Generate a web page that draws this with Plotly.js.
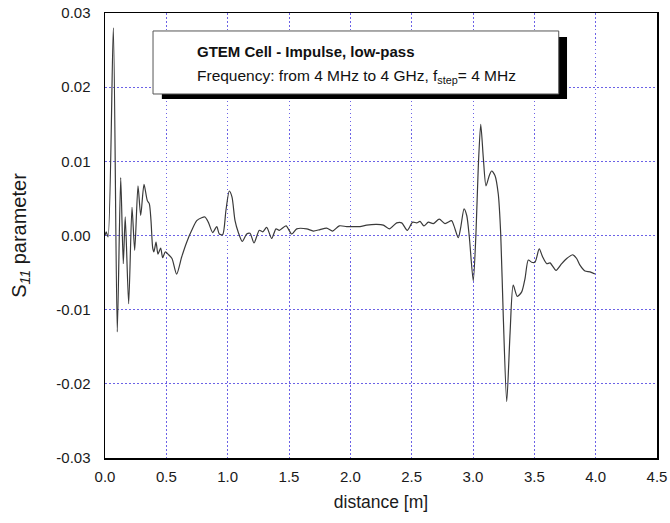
<!DOCTYPE html>
<html>
<head>
<meta charset="utf-8">
<script src="https://cdn.plot.ly/plotly-3.0.1.min.js"></script>
<style>html,body{margin:0;padding:0;background:#fff;}#chart{width:670px;height:523px;}</style>
</head>
<body>
<div id="chart"></div>
<script>
// distance [m]
const distance = [
  0.000, 0.010, 0.025, 0.068, 0.100, 0.128, 0.149, 0.165, 0.193, 0.220,
  0.242, 0.269, 0.291, 0.318, 0.345, 0.361, 0.375, 0.389, 0.399, 0.416,
  0.432, 0.454, 0.470, 0.492, 0.519, 0.546, 0.584, 0.625, 0.666, 0.707,
  0.748, 0.788, 0.815, 0.842, 0.878, 0.911, 0.932, 0.959, 0.986, 1.013,
  1.035, 1.060, 1.087, 1.119, 1.155, 1.182, 1.215, 1.258, 1.286, 1.318,
  1.359, 1.394, 1.421, 1.476, 1.522, 1.563, 1.644, 1.698, 1.753, 1.807,
  1.856, 1.910, 1.970, 2.024, 2.079, 2.133, 2.215, 2.269, 2.318, 2.378,
  2.419, 2.464, 2.508, 2.541, 2.568, 2.600, 2.636, 2.676, 2.725, 2.772,
  2.826, 2.845, 2.880, 2.900, 2.927, 2.949, 2.970, 3.002, 3.024, 3.043,
  3.063, 3.084, 3.106, 3.133, 3.152, 3.179, 3.206, 3.226, 3.247, 3.275,
  3.302, 3.328, 3.361, 3.397, 3.424, 3.451, 3.478, 3.505, 3.540, 3.568,
  3.601, 3.628, 3.677, 3.723, 3.764, 3.813, 3.845, 3.872, 3.913, 3.954,
  3.994
];
// S11 parameter
const s11 = [
  0.0000, 0.0005, -0.0002, 0.0280, -0.0130, 0.0078, -0.0038, 0.0025, -0.0092, 0.0038,
  -0.0020, 0.0067, 0.0027, 0.0069, 0.0047, 0.0043, 0.0020, -0.0017, -0.0022, -0.0009,
  -0.0025, -0.0017, -0.0030, -0.0022, -0.0026, -0.0031, -0.0052, -0.0029, -0.0009, 0.0007,
  0.0020, 0.0024, 0.0025, 0.0018, 0.0004, 0.0012, 0.0002, 0.0001, 0.0034, 0.0060,
  0.0052, 0.0020, 0.0004, -0.0008, 0.0002, 0.0003, -0.0010, 0.0007, 0.0005, 0.0011,
  -0.0004, 0.0009, 0.0007, 0.0013, 0.0002, 0.0009, 0.0009, 0.0006, 0.0008, 0.0010,
  0.0006, 0.0013, 0.0012, 0.0012, 0.0012, 0.0014, 0.0015, 0.0014, 0.0009, 0.0017,
  0.0017, 0.0007, 0.0018, 0.0017, 0.0019, 0.0013, 0.0018, 0.0016, 0.0022, 0.0016,
  0.0020, 0.0013, -0.0003, 0.0011, 0.0036, 0.0027, -0.0002, -0.0061, 0.0002, 0.0092,
  0.0150, 0.0105, 0.0067, 0.0081, 0.0087, 0.0081, 0.0056, 0.0002, -0.0110, -0.0224,
  -0.0132, -0.0067, -0.0082, -0.0076, -0.0058, -0.0033, -0.0036, -0.0036, -0.0018, -0.0029,
  -0.0038, -0.0037, -0.0047, -0.0038, -0.0031, -0.0026, -0.0031, -0.0040, -0.0048, -0.0049,
  -0.0052
];
const xTicks = [0, 0.5, 1, 1.5, 2, 2.5, 3, 3.5, 4, 4.5];
const xTickText = ["0.0","0.5","1.0","1.5","2.0","2.5","3.0","3.5","4.0","4.5"];
const yTicks = [-0.03, -0.02, -0.01, 0, 0.01, 0.02, 0.03];
const yTickText = ["-0.03","-0.02","-0.01","0.00","0.01","0.02","0.03"];

const gridColor = "#6c62e6";
const tickFont = {family: "Liberation Sans, Arial, sans-serif", size: 15, color: "#1a1a1a"};

const trace = {
  x: distance, y: s11, type: "scatter", mode: "lines",
  line: {color: "#3a3a3a", width: 1.2, shape: "spline", smoothing: 0.7},
  hoverinfo: "none"
};

const layout = {
  width: 670, height: 523,
  margin: {l: 105, r: 13, t: 13, b: 65},
  paper_bgcolor: "#fff", plot_bgcolor: "#fff",
  showlegend: false,
  font: {family: "Liberation Sans, Arial, sans-serif", color: "#1a1a1a"},
  xaxis: {
    range: [0, 4.5], tickvals: xTicks, ticktext: xTickText,
    showgrid: true, gridcolor: gridColor, gridwidth: 1, griddash: "1.5px,2.5px",
    zeroline: false, showline: true, linecolor: "#000", linewidth: 1.5, mirror: true,
    ticks: "", ticklabelstandoff: 4, tickfont: tickFont,
    title: {text: "distance [m]", font: {size: 17.5, color: "#1a1a1a"}, standoff: 12}
  },
  yaxis: {
    range: [-0.03, 0.03], tickvals: yTicks, ticktext: yTickText,
    showgrid: true, gridcolor: gridColor, gridwidth: 1, griddash: "1.5px,2.5px",
    zeroline: false, showline: true, linecolor: "#000", linewidth: 1.5, mirror: true,
    ticks: "", ticklabelstandoff: 10, tickfont: tickFont,
    title: {text: "S<sub><i>11</i></sub> parameter", font: {size: 20, color: "#1a1a1a"}, standoff: 24}
  },
  shapes: [
    {type: "rect", xref: "paper", yref: "paper", x0: 0.103, x1: 0.837, y0: 0.807, y1: 0.946,
     fillcolor: "#000", line: {width: 0}},
    {type: "rect", xref: "paper", yref: "paper", x0: 0.087, x1: 0.822, y0: 0.818, y1: 0.9596,
     fillcolor: "#fff", line: {color: "#555", width: 1}}
  ],
  annotations: [
    {xref: "paper", yref: "paper", x: 0.163, y: 0.913, xanchor: "left", yanchor: "middle",
     showarrow: false, text: "<b>GTEM Cell - Impulse, low-pass</b>",
     font: {size: 15, color: "#111"}},
    {xref: "paper", yref: "paper", x: 0.163, y: 0.858, xanchor: "left", yanchor: "middle",
     showarrow: false, text: "Frequency: from 4 MHz to 4 GHz, f<sub>step</sub>= 4 MHz",
     font: {size: 15.5, color: "#111"}}
  ]
};

Plotly.newPlot("chart", [trace], layout, {staticPlot: true, displayModeBar: false});
</script>
</body>
</html>
